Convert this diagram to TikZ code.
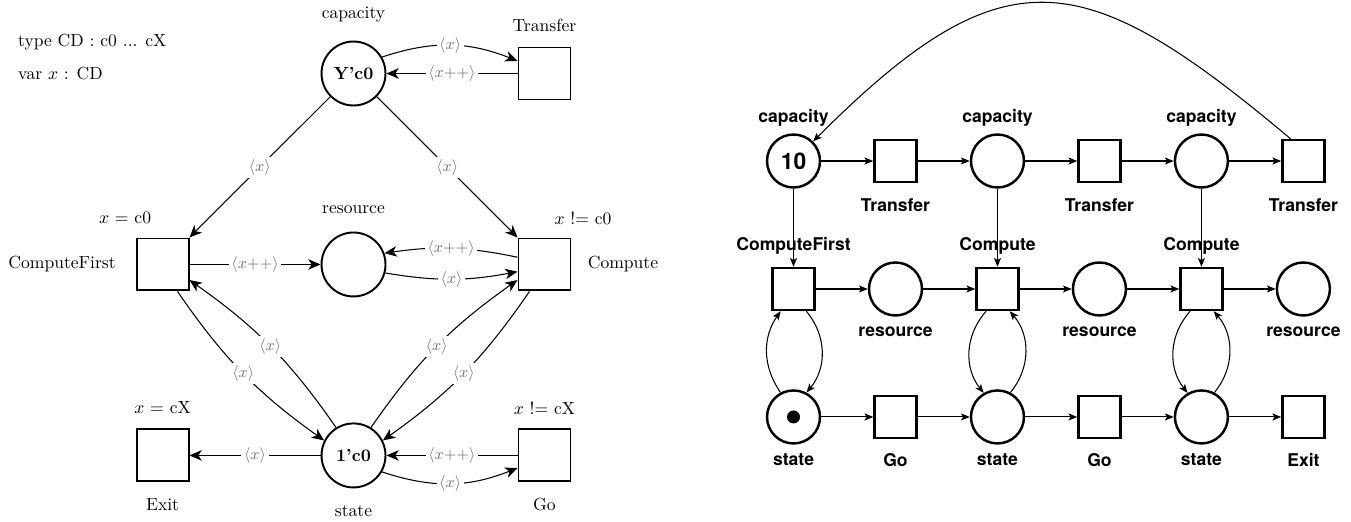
\documentclass[tikz,border=0pt]{standalone}
\usepackage{fontspec}
\newfontfamily\helv{TeX Gyre Heros}
\usetikzlibrary{arrows.meta}

\begin{document}
\begin{tikzpicture}[x=0.02cm, y=-0.02cm, node distance=3.82cm,
    lugarA/.style={draw, circle, line width=1.1pt, minimum size=1.28cm, inner sep=0pt},
    transA/.style={draw, rectangle, line width=1.1pt, minimum size=1.04cm, inner sep=0pt},
    arcA/.style={line width=0.6pt, -{Stealth[length=7pt, width=6pt, inset=2pt]}},
    etq/.style={font=\small, text=black!55, fill=white, inner sep=1.5pt},
    lugarB/.style={draw, circle, line width=1.4pt, minimum size=1.06cm, inner sep=0pt, font=\helv\bfseries\fontsize{13}{15}\selectfont},
    transB/.style={draw, rectangle, line width=1.4pt, minimum size=0.84cm, inner sep=0pt},
    arcB/.style={line width=0.6pt, -{Stealth[length=5pt, width=4pt, inset=1.2pt]}},
    txtB/.style={font=\helv\bfseries}]
    \useasboundingbox (0,0) rectangle (1351,521);

    % Declaraciones
    \node[anchor=west] (tipo) at (12,42) {type CD : c0 ... cX};
    \node[anchor=west] (var) at (12,73) {var $x$ : CD};

    % Red coloreada: lugares y transiciones
    \node[lugarA] (cap) at (353.5,73.5) {\textbf{Y'c0}};
    \node[transA, right of=cap] (tra) {};
    \node[lugarA, below of=cap] (res) {};
    \node[transA, left of=res] (cfi) {};
    \node[transA, right of=res] (cmp) {};
    \node[lugarA, below of=res] (sta) {\textbf{1'c0}};
    \node[transA, left of=sta] (exi) {};
    \node[transA, right of=sta] (go) {};

    % Nombres y guardas
    \node[above of=cap, node distance=1.17cm] (capL) {capacity};
    \node[above of=tra, node distance=0.97cm] (traL) {Transfer};
    \node[above of=cfi, node distance=0.93cm, xshift=-0.75cm] (cfiG) {$x$ = c0};
    \node[left of=cfi, node distance=2.01cm] (cfiL) {ComputeFirst};
    \node[above of=res, node distance=1.09cm] (resL) {resource};
    \node[above of=cmp, node distance=0.93cm, xshift=0.77cm] (cmpG) {$x$ != c0};
    \node[right of=cmp, node distance=1.57cm] (cmpL) {Compute};
    \node[above of=exi, node distance=0.95cm] (exiG) {$x$ = cX};
    \node[below of=exi, node distance=0.99cm] (exiL) {Exit};
    \node[below of=sta, node distance=1.11cm] (staL) {state};
    \node[above of=go, node distance=0.95cm] (goG) {$x$ != cX};
    \node[below of=go, node distance=0.99cm] (goL) {Go};

    % Arcos
    \draw[arcA] (cap.30) to[bend left=20] node[etq] {$\langle x\rangle$} (tra.155);
    \draw[arcA] (tra) -- node[etq] {$\langle x{+}{+}\rangle$} (cap);
    \draw[arcA] (cap) -- node[etq] {$\langle x\rangle$} (cfi);
    \draw[arcA] (cap) -- node[etq] {$\langle x\rangle$} (cmp);
    \draw[arcA] (cfi) -- node[etq] {$\langle x{+}{+}\rangle$} (res);
    \draw[arcA] (cmp.165) to[bend right=10] node[etq] {$\langle x{+}{+}\rangle$} (res.20);
    \draw[arcA] (res.-15) to[bend right=10] node[etq] {$\langle x\rangle$} (cmp.195);
    \draw[arcA] (cfi.-61) to[bend right=10] node[etq] {$\langle x\rangle$} (sta.153);
    \draw[arcA] (sta.122) to[bend right=10] node[etq] {$\langle x\rangle$} (cfi.-30);
    \draw[arcA] (cmp.-119) to[bend left=10] node[etq] {$\langle x\rangle$} (sta.27);
    \draw[arcA] (sta.58) to[bend left=10] node[etq] {$\langle x\rangle$} (cmp.210);
    \draw[arcA] (sta) -- node[etq] {$\langle x\rangle$} (exi);
    \draw[arcA] (go) -- node[etq] {$\langle x{+}{+}\rangle$} (sta);
    \draw[arcA] (sta.-30) to[bend right=20] node[etq] {$\langle x\rangle$} (go.205);

    % Red desplegada
    \begin{scope}[node distance=2.04cm]
        \node[lugarB] (p1) at (793.5,161) {10};
        \node[transB, right of=p1] (t1) {};
        \node[lugarB, right of=t1] (p2) {};
        \node[transB, right of=p2] (t2) {};
        \node[lugarB, right of=t2] (p3) {};
        \node[transB, right of=p3] (t3) {};

        \node[transB, below of=p1, node distance=2.56cm] (cf) {};
        \node[lugarB, right of=cf] (r1) {};
        \node[transB, right of=r1] (cm1) {};
        \node[lugarB, right of=cm1] (r2) {};
        \node[transB, right of=r2] (cm2) {};
        \node[lugarB, right of=cm2] (r3) {};

        \node[lugarB, below of=cf, node distance=2.56cm] (s1) {};
        \node[transB, right of=s1] (g1) {};
        \node[lugarB, right of=g1] (s2) {};
        \node[transB, right of=s2] (g2) {};
        \node[lugarB, right of=g2] (s3) {};
        \node[transB, right of=s3] (ex) {};
    \end{scope}
    \node[circle, fill, inner sep=0pt, minimum size=0.26cm] (tok) at (s1) {};

    % Etiquetas
    \node[txtB, above of=p1, node distance=0.86cm] (p1L) {capacity};
    \node[txtB, above of=p2, node distance=0.86cm] (p2L) {capacity};
    \node[txtB, above of=p3, node distance=0.86cm] (p3L) {capacity};
    \node[txtB, below of=t1, node distance=0.88cm] (t1L) {Transfer};
    \node[txtB, below of=t2, node distance=0.88cm] (t2L) {Transfer};
    \node[txtB, below of=t3, node distance=0.88cm] (t3L) {Transfer};
    \node[txtB, above of=cf, node distance=0.86cm] (cfL) {ComputeFirst};
    \node[txtB, above of=cm1, node distance=0.86cm] (cm1L) {Compute};
    \node[txtB, above of=cm2, node distance=0.86cm] (cm2L) {Compute};
    \node[txtB, below of=r1, node distance=0.86cm] (r1L) {resource};
    \node[txtB, below of=r2, node distance=0.86cm] (r2L) {resource};
    \node[txtB, below of=r3, node distance=0.86cm] (r3L) {resource};
    \node[txtB, below of=s1, node distance=0.86cm] (s1L) {state};
    \node[txtB, below of=g1, node distance=0.86cm] (g1L) {Go};
    \node[txtB, below of=s2, node distance=0.86cm] (s2L) {state};
    \node[txtB, below of=g2, node distance=0.86cm] (g2L) {Go};
    \node[txtB, below of=s3, node distance=0.86cm] (s3L) {state};
    \node[txtB, below of=ex, node distance=0.86cm] (exL) {Exit};

    % Flujo
    \draw[arcB] (p1) -- (t1);
    \draw[arcB] (t1) -- (p2);
    \draw[arcB] (p2) -- (t2);
    \draw[arcB] (t2) -- (p3);
    \draw[arcB] (p3) -- (t3);
    \draw[arcB] (t3.120) to[out=140, in=45, looseness=1.45] (p1.45);
    \draw[arcB] (p1) -- (cf);
    \draw[arcB] (p2) -- (cm1);
    \draw[arcB] (p3) -- (cm2);
    \draw[arcB] (cf) -- (r1);
    \draw[arcB] (r1) -- (cm1);
    \draw[arcB] (cm1) -- (r2);
    \draw[arcB] (r2) -- (cm2);
    \draw[arcB] (cm2) -- (r3);
    \draw[arcB] (s1) -- (g1);
    \draw[arcB] (g1) -- (s2);
    \draw[arcB] (s2) -- (g2);
    \draw[arcB] (g2) -- (s3);
    \draw[arcB] (s3) -- (ex);
    \draw[arcB] (s1.118) to[bend left=35] (cf.240);
    \draw[arcB] (cf.-60) to[bend left=40] (s1.62);
    \draw[arcB] (cm1.243) to[bend right=40] (s2.120);
    \draw[arcB] (s2.62) to[bend right=40] (cm1.-61);
    \draw[arcB] (cm2.243) to[bend right=40] (s3.120);
    \draw[arcB] (s3.62) to[bend right=40] (cm2.-61);
\end{tikzpicture}
\end{document}
